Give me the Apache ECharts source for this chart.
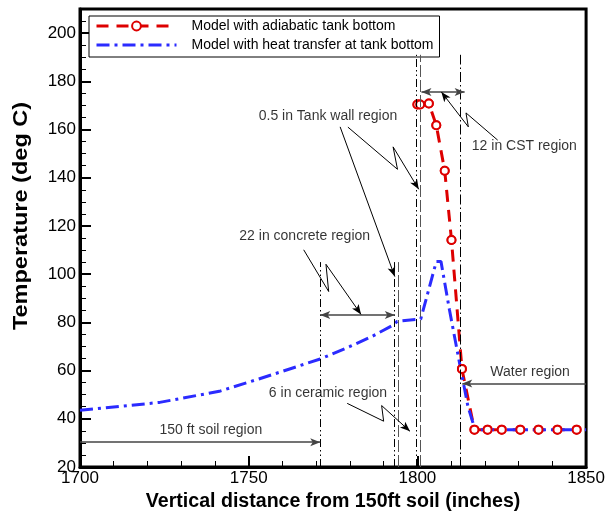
<!DOCTYPE html>
<html>
<head>
<meta charset="utf-8">
<script src="https://cdn.jsdelivr.net/npm/echarts@6/dist/echarts.min.js"></script>
<style>
  html, body { margin: 0; padding: 0; background: #fff; }
  #chart { width: 608px; height: 517px; }
</style>
</head>
<body>
<div id="chart"></div>
<script>
const FONT = '"Liberation Sans", Arial, Helvetica, sans-serif';

// model with adiabatic tank bottom (red, circles)
const adiabaticX = [1800.0, 1800.8, 1803.4, 1805.6, 1808.1, 1810.1, 1813.2, 1816.9, 1820.8, 1825.0, 1830.5, 1835.9, 1841.5, 1847.2];
const adiabaticT = [170.4, 170.4, 170.8, 161.8, 142.9, 114.2, 60.7, 35.5, 35.5, 35.5, 35.5, 35.5, 35.5, 35.5];

// model with heat transfer at tank bottom (blue)
const heatX = [1700, 1723.6, 1741.3, 1753, 1771.2, 1780, 1786.6, 1793, 1794, 1801, 1805.6, 1807, 1809.5, 1812.5, 1815, 1817.1, 1850];
const heatT = [43.5, 46.8, 51.4, 56.5, 64.8, 70.0, 74.2, 79.0, 80.4, 81.4, 105.2, 105.2, 85.2, 63.1, 45.0, 35.5, 35.5];

// region boundary lines
const boundaryX = [1771.2, 1793.1, 1794.3, 1799.6, 1800.9, 1812.6];
const boundaryTop = [105, 105, 105, 191, 191, 191];
const boundaryKind = ['dashdotdot', 'dashdotdot', 'dash', 'dashdotdot', 'dash', 'dashdot'];

// region labels
const regionText = ['0.5 in Tank wall region', '12 in CST region', '22 in concrete region', '6 in ceramic region', '150 ft soil region', 'Water region'];
const regionX = [1773.5, 1831.7, 1766.6, 1773.5, 1738.8, 1833.4];
const regionY = [165.5, 153.1, 115.6, 50.7, 35.1, 59.4];

// span arrows
const spanX1 = [1700, 1771.2, 1801.2, 1850];
const spanX2 = [1771.2, 1793.3, 1814.0, 1813.3];
const spanY = [30.3, 83.1, 175.6, 54.6];
const spanBoth = [false, true, true, false];

// leader lines from labels, last point is the arrow tip
const tankLeader = [[1779.4, 161.0], [1794.1, 143.5], [1792.8, 152.8], [1800.4, 135.2]];
const tankLeader2 = [[1777.1, 161.1], [1793.3, 99.0]];
const concreteLeader = [[1766.3, 110.1], [1773.7, 92.8], [1772.9, 104.1], [1783.3, 83.3]];
const ceramicLeader = [[1779.2, 46.4], [1790.0, 39.0], [1789.4, 45.5], [1797.8, 34.8]];
const cstLeader = [[1823.8, 155.6], [1814.4, 166.9], [1815.1, 161.1], [1807.1, 175.6]];

const dashes = {
  dashdotdot: [8, 3, 1.5, 3, 1.5, 3],
  dash: [12, 3],
  dashdot: [10, 3, 1.5, 3]
};

function leaderSegs(path) {
  const out = [];
  for (let i = 0; i < path.length - 1; i++) {
    const last = i === path.length - 2;
    out.push([
      { coord: path[i], symbol: 'none' },
      { coord: path[i + 1], symbol: last ? 'arrow' : 'none' }
    ]);
  }
  return out;
}

const markData = [];
for (let i = 0; i < boundaryX.length; i++) {
  const kind = boundaryKind[i];
  markData.push([
    { coord: [boundaryX[i], 20], symbol: 'none',
      lineStyle: { color: kind === 'dash' ? '#555' : '#000', width: 1, type: dashes[kind] } },
    { coord: [boundaryX[i], boundaryTop[i]], symbol: 'none' }
  ]);
}
for (let i = 0; i < spanX1.length; i++) {
  markData.push([
    { coord: [spanX1[i], spanY[i]], symbol: spanBoth[i] ? 'arrow' : 'none',
      lineStyle: { color: '#444', width: 1.5, type: 'solid' } },
    { coord: [spanX2[i], spanY[i]], symbol: 'arrow' }
  ]);
}
[tankLeader, tankLeader2, concreteLeader, ceramicLeader, cstLeader].forEach(p => {
  leaderSegs(p).forEach(s => {
    s[0].lineStyle = { color: '#000', width: 1, type: 'solid' };
    markData.push(s);
  });
});

const RED = '#dd0000';
const BLUE = '#2b2bff';
const NAME_A = 'Model with adiabatic tank bottom';
const NAME_B = 'Model with heat transfer at tank bottom';

const chart = echarts.init(document.getElementById('chart'), null, { renderer: 'canvas' });

chart.setOption({
  animation: false,
  backgroundColor: '#fff',
  grid: { left: 80, right: 19, top: 9, bottom: 50, show: true, borderColor: '#000', borderWidth: 3 },
  // y title is drawn a bit taller than wide, as in the original figure
  graphic: [{
    type: 'text',
    x: 22,
    y: 216,
    rotation: Math.PI / 2,
    scaleX: 1.2,
    silent: true,
    style: {
      text: 'Temperature (deg C)',
      font: 'bold 19.6px ' + FONT,
      fill: '#000',
      align: 'center',
      verticalAlign: 'middle',
      textAlign: 'center',
      textVerticalAlign: 'middle'
    }
  }],
  legend: {
    data: [NAME_A, { name: NAME_B, itemStyle: { opacity: 0 } }],
    orient: 'vertical',
    left: 89,
    top: 16,
    backgroundColor: '#fff',
    borderColor: '#000',
    borderWidth: 1,
    borderRadius: 0,
    padding: [2, 6, 4, 6],
    itemWidth: 80,
    itemHeight: 11,
    itemGap: 3,
    selectedMode: false,
    lineStyle: { width: 3 },
    textStyle: { fontFamily: FONT, fontSize: 14, lineHeight: 16, color: '#000', padding: [0, 0, 0, 10] }
  },
  xAxis: {
    type: 'value',
    min: 1700,
    max: 1850,
    interval: 50,
    name: 'Vertical distance from 150ft soil (inches)',
    nameLocation: 'middle',
    nameGap: 24,
    nameTextStyle: { fontFamily: FONT, fontSize: 19.6, fontWeight: 'bold', color: '#000' },
    axisLine: { lineStyle: { color: '#000', width: 3 } },
    axisTick: { inside: true, length: 11, lineStyle: { color: '#000', width: 2 } },
    minorTick: { show: true, splitNumber: 5, length: 6, lineStyle: { color: '#000', width: 1 } },
    axisLabel: { fontFamily: FONT, fontSize: 17, color: '#000', margin: 3, formatter: v => String(v) },
    splitLine: { show: false }
  },
  yAxis: {
    type: 'value',
    min: 20,
    max: 210,
    interval: 20,
    axisLine: { lineStyle: { color: '#000', width: 3 } },
    axisTick: { inside: true, length: 11, lineStyle: { color: '#000', width: 2 } },
    minorTick: { show: true, splitNumber: 4, length: 6, lineStyle: { color: '#000', width: 1 } },
    axisLabel: { fontFamily: FONT, fontSize: 17, color: '#000', margin: 4, showMaxLabel: false, formatter: v => String(v) },
    splitLine: { show: false }
  },
  series: [
    {
      name: NAME_A,
      type: 'line',
      z: 2,
      data: adiabaticX.map((x, i) => [x, adiabaticT[i]]),
      symbol: 'emptyCircle',
      symbolSize: 8,
      showAllSymbol: true,
      lineStyle: { color: RED, width: 3, type: [12, 8] },
      itemStyle: { color: RED, borderWidth: 1.5 },
      silent: true
    },
    {
      name: NAME_B,
      type: 'line',
      z: 3,
      data: heatX.map((x, i) => [x, heatT[i]]),
      symbol: 'none',
      lineStyle: { color: BLUE, width: 3, type: [13, 5, 3, 5] },
      itemStyle: { color: BLUE },
      silent: true,
      markLine: {
        silent: true,
        animation: false,
        symbolSize: [6, 10],
        label: { show: false },
        emphasis: { disabled: true },
        data: markData
      }
    },
    {
      name: 'adiabatic points',
      type: 'line',
      z: 4,
      data: adiabaticX.map((x, i) => [x, adiabaticT[i]]),
      symbol: 'emptyCircle',
      symbolSize: 8,
      showAllSymbol: true,
      lineStyle: { width: 0 },
      itemStyle: { color: RED, borderWidth: 1.5 },
      silent: true
    },
    {
      name: 'notes',
      type: 'scatter',
      z: 5,
      symbolSize: 1,
      itemStyle: { color: 'rgba(0,0,0,0)' },
      data: regionText.map((t, i) => ({ name: t, value: [regionX[i], regionY[i]] })),
      label: { show: true, position: 'inside', formatter: '{b}', fontFamily: FONT, fontSize: 14, color: '#000' },
      silent: true
    }
  ]
});

window.addEventListener('resize', () => chart.resize());
</script>
</body>
</html>
